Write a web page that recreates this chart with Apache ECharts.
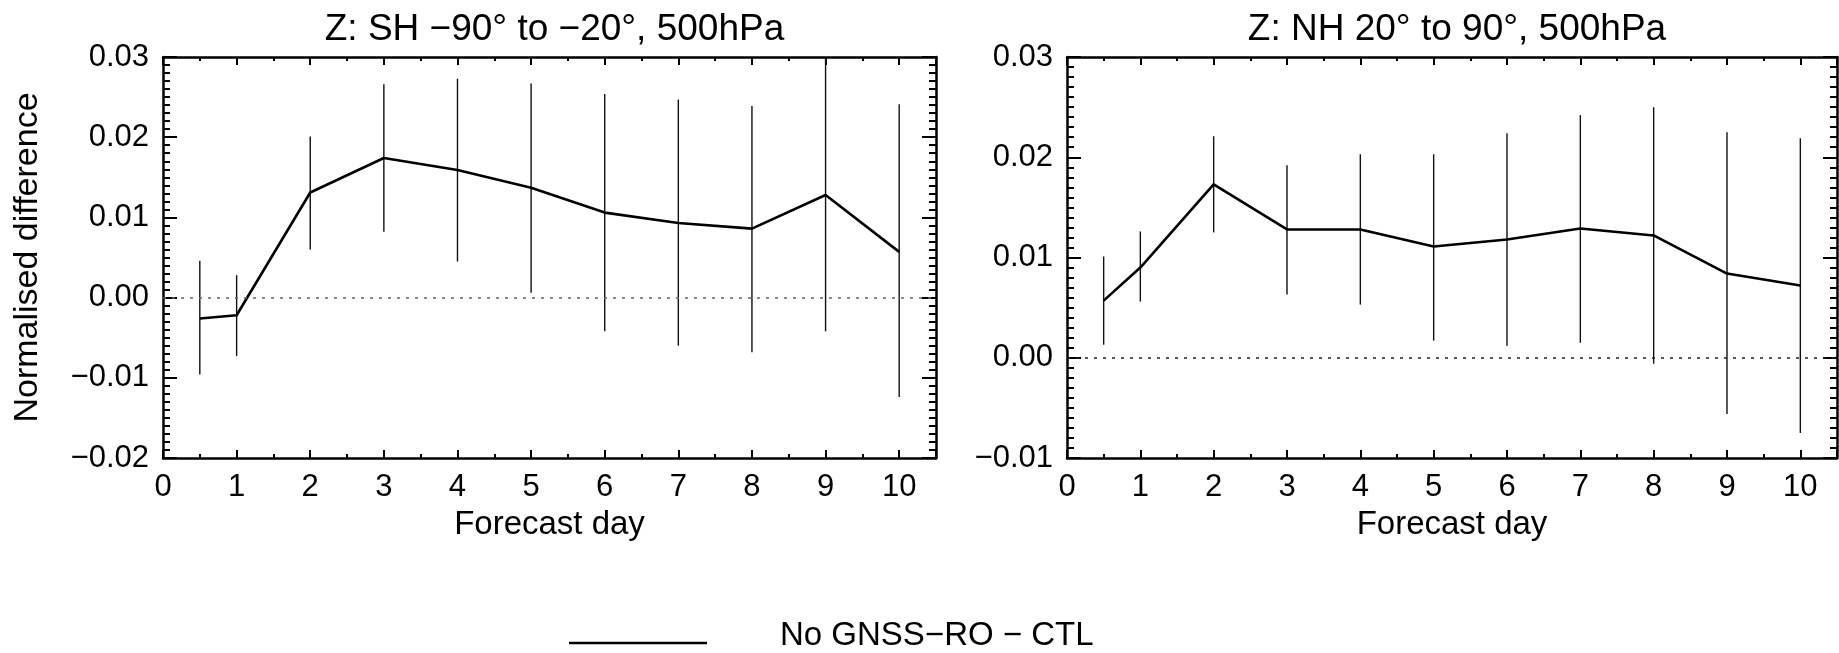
<!DOCTYPE html>
<html>
<head>
<meta charset="utf-8">
<script src="https://cdn.jsdelivr.net/npm/echarts@6/dist/echarts.min.js"></script>
<style>
html,body{margin:0;padding:0;background:#fff;}
#c{width:1839px;height:653px;}
</style>
</head>
<body>
<div id="c"></div>
<script>
// ---- data ----
const days = [0.5, 1, 2, 3, 4, 5, 6, 7, 8, 9, 10];
const xTickLabels = ['0','1','2','3','4','5','6','7','8','9','10'];

const shMean  = [-0.0026, -0.0022, 0.0131, 0.0174, 0.0159, 0.0137, 0.0106, 0.0093, 0.0086, 0.0128, 0.0057];
const shUpper = [0.0046, 0.0028, 0.0201, 0.0266, 0.0273, 0.0267, 0.0254, 0.0247, 0.0239, 0.0300, 0.0241];
const shLower = [-0.0096, -0.0073, 0.0060, 0.0082, 0.0045, 0.0006, -0.0042, -0.0060, -0.0068, -0.0042, -0.0124];

const nhMean  = [0.0057, 0.0090, 0.0173, 0.0128, 0.0128, 0.0111, 0.0118, 0.0129, 0.0122, 0.0084, 0.0072];
const nhUpper = [0.0101, 0.0126, 0.0221, 0.0192, 0.0203, 0.0203, 0.0224, 0.0242, 0.0250, 0.0225, 0.0219];
const nhLower = [0.0013, 0.0056, 0.0125, 0.0063, 0.0053, 0.0017, 0.0012, 0.0015, -0.0006, -0.0056, -0.0075];

const titles = ['Z: SH \u221290\u00b0 to \u221220\u00b0, 500hPa', 'Z: NH 20\u00b0 to 90\u00b0, 500hPa'];
const xName = 'Forecast day';
const yName = 'Normalised difference';
const seriesName = 'No GNSS\u2212RO \u2212 CTL';
const yRanges = [[-0.02, 0.03], [-0.01, 0.03]];

// ---- layout ----
const FONT = '"Liberation Sans", Arial, Helvetica, sans-serif';
const grids = [
  {left: 163, top: 57, width: 773, height: 401},
  {left: 1067, top: 57, width: 770, height: 401}
];

function yFmt(v){
  const r = Math.round(v * 100);
  return (r < 0 ? '\u2212' : '') + Math.abs(v).toFixed(2);
}

const axisLineStyle = {color: '#000', width: 2.5};
const xAxes = [], yAxes = [], series = [];

grids.forEach((g, i) => {
  const common = {
    type: 'value', gridIndex: i, min: 0, max: 10.5, interval: 1,
    splitLine: {show: false},
    axisLine: {show: true, onZero: false, lineStyle: axisLineStyle},
    axisTick: {show: true, inside: true, length: 8, lineStyle: {color: '#000', width: 2}},
    minorTick: {show: true, splitNumber: 2, length: 4, lineStyle: {color: '#000', width: 2}}
  };
  xAxes.push(Object.assign({}, common, {
    position: 'bottom',
    name: xName, nameLocation: 'middle', nameGap: 50,
    nameTextStyle: {fontFamily: FONT, fontSize: 33, color: '#000'},
    axisLabel: {show: true, margin: 14, fontFamily: FONT, fontSize: 31, color: '#000',
      showMaxLabel: false,
      formatter: v => (Number.isInteger(v) ? xTickLabels[v] : '')}
  }));
  xAxes.push(Object.assign({}, common, {position: 'top', axisLabel: {show: false}}));

  const yc = {
    type: 'value', gridIndex: i, min: yRanges[i][0], max: yRanges[i][1], interval: 0.01,
    splitLine: {show: false},
    axisLine: {show: true, onZero: false, lineStyle: axisLineStyle},
    axisTick: {show: true, inside: true, length: 14, lineStyle: {color: '#000', width: 2}},
    minorTick: {show: true, splitNumber: 10, length: 7, lineStyle: {color: '#000', width: 2}}
  };
  yAxes.push(Object.assign({}, yc, {
    position: 'left',
    name: i === 0 ? yName : '', nameLocation: 'middle', nameGap: 118, nameRotate: 90,
    nameTextStyle: {fontFamily: FONT, fontSize: 34, color: '#000'},
    axisLabel: {show: true, margin: 14, fontFamily: FONT, fontSize: 31, color: '#000', formatter: yFmt}
  }));
  yAxes.push(Object.assign({}, yc, {position: 'right', axisLabel: {show: false}}));
});

const sets = [[shMean, shUpper, shLower], [nhMean, nhUpper, nhLower]];
sets.forEach((s, i) => {
  const [mean, up, lo] = s;
  series.push({
    type: 'custom', name: seriesName + ' range', xAxisIndex: i * 2, yAxisIndex: i * 2,
    clip: true, silent: true,
    data: days.map((d, k) => [d, lo[k], up[k]]),
    renderItem: (params, api) => {
      const a = api.coord([api.value(0), api.value(1)]);
      const b = api.coord([api.value(0), api.value(2)]);
      return {type: 'line', shape: {x1: a[0], y1: a[1], x2: b[0], y2: b[1]},
        style: {stroke: '#111', lineWidth: 1.4}};
    }
  });
  series.push({
    type: 'line', name: seriesName, xAxisIndex: i * 2, yAxisIndex: i * 2,
    data: days.map((d, k) => [d, mean[k]]),
    symbol: 'none', silent: true,
    lineStyle: {color: '#000', width: 2.6},
    markLine: {
      silent: true, symbol: 'none', label: {show: false},
      lineStyle: {type: [3, 6], color: i === 0 ? '#666' : '#222', width: 1.6},
      data: [{yAxis: 0}]
    }
  });
});

const chart = echarts.init(document.getElementById('c'), null, {renderer: 'canvas'});
chart.setOption({
  backgroundColor: '#fff',
  animation: false,
  title: grids.map((g, i) => ({
    text: titles[i], left: g.left + g.width / 2, top: 6, textAlign: 'center',
    textStyle: {fontFamily: FONT, fontSize: 37, fontWeight: 'normal', color: '#000'}
  })),
  grid: grids.map(g => Object.assign({containLabel: false}, g)),
  xAxis: xAxes,
  yAxis: yAxes,
  series: series,
  graphic: [
    {type: 'line', shape: {x1: 569, y1: 643, x2: 707, y2: 643}, style: {stroke: '#000', lineWidth: 2.5}},
    {type: 'text', x: 780, y: 636, style: {text: seriesName, font: '33px ' + FONT, fill: '#000', verticalAlign: 'middle', align: 'left'}}
  ]
});
</script>
</body>
</html>
